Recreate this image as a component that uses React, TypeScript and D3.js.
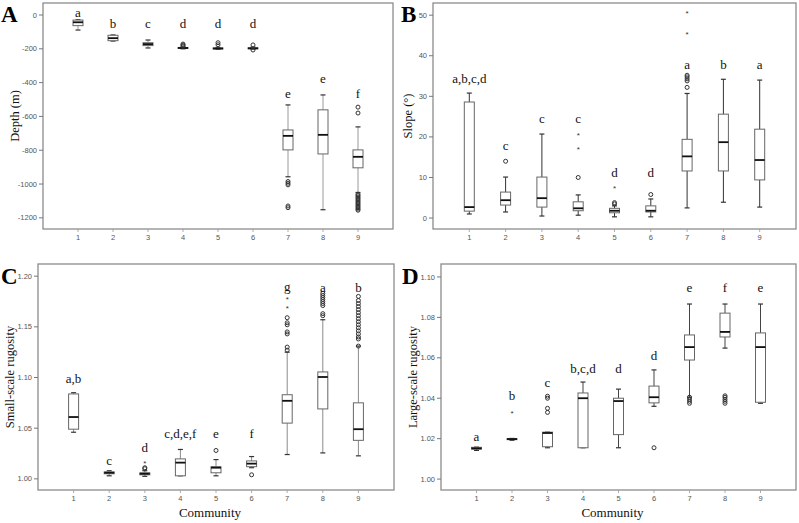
import React from "react";
import * as d3 from "d3";

const communities = [1, 2, 3, 4, 5, 6, 7, 8, 9];

// Panel A: Depth (m)
const depthMin = [-89, -154, -195, -200, -203, -202, -957, -1152, -1050];
const depthQ1 = [-63, -152, -181, -198, -201, -200, -798, -822, -904];
const depthMed = [-43, -137, -172, -195, -198, -197, -715, -709, -839];
const depthQ3 = [-30, -120, -164, -192, -195, -194, -680, -561, -798];
const depthMax = [-28, -118, -148, -190, -192, -190, -532, -473, -662];
const depthCircles = [[], [], [], [-172, -178, -184], [-164, -176], [-177, -207], [-985, -995, -1005, -1130, -1140], [], [-545, -580, -1060, -1068, -1076, -1084, -1092, -1100, -1108, -1116, -1124, -1132, -1140, -1148, -1155]];
const depthStars = [[], [], [], [], [], [], [], [], []];
const depthLetters = ["a", "b", "c", "d", "d", "d", "e", "e", "f"];
const depthLetterAt = [-12, -77, -77, -77, -77, -77, -490, -402, -490];
const depthTicks = [0, -200, -400, -600, -800, -1000, -1200];

// Panel B: Slope
const slopeMin = [1.0, 1.5, 0.5, 0.7, 0.3, 0.3, 2.5, 3.9, 2.7];
const slopeQ1 = [1.7, 3.2, 2.7, 1.8, 1.3, 1.5, 11.6, 11.6, 9.4];
const slopeMed = [2.7, 4.4, 4.9, 2.4, 1.8, 1.8, 15.2, 18.7, 14.3];
const slopeQ3 = [28.6, 6.4, 10.1, 4.0, 2.4, 3.0, 19.4, 25.6, 21.9];
const slopeMax = [30.8, 10.1, 20.7, 5.7, 3.0, 4.7, 30.7, 34.2, 34.0];
const slopeCircles = [[], [14.0], [], [10.0], [3.5, 3.8], [5.8], [32.2, 33.8, 34.3, 34.8, 35.2], [], []];
const slopeStars = [[], [], [], [17.2, 20.7], [7.5], [], [45.6, 50.7], [], []];
const slopeLetters = ["a,b,c,d", "c", "c", "c", "d", "d", "a", "b", "a"];
const slopeLetterAt = [33.2, 16.7, 23.4, 23.4, 10.1, 10.1, 36.7, 36.7, 36.7];
const slopeTicks = [0, 10, 20, 30, 40, 50];

// Panel C: Small-scale rugosity
const smallMin = [1.046, 1.003, 1.0025, 1.003, 1.003, 1.011, 1.024, 1.0256, 1.0227];
const smallQ1 = [1.049, 1.005, 1.004, 1.003, 1.006, 1.012, 1.055, 1.069, 1.038];
const smallMed = [1.061, 1.006, 1.005, 1.016, 1.011, 1.015, 1.077, 1.1005, 1.049];
const smallQ3 = [1.0838, 1.0069, 1.006, 1.0197, 1.012, 1.0177, 1.083, 1.1055, 1.075];
const smallMax = [1.085, 1.008, 1.008, 1.029, 1.019, 1.022, 1.125, 1.157, 1.131];
const smallCircles = [[], [], [1.010, 1.011], [], [1.028], [1.004], [1.127, 1.130, 1.143, 1.145, 1.152, 1.154, 1.159], [1.161, 1.163, 1.171, 1.173, 1.175, 1.177, 1.179, 1.181, 1.183], [1.131, 1.138, 1.140, 1.143, 1.146, 1.149, 1.152, 1.155, 1.158, 1.161, 1.164, 1.167, 1.170, 1.173, 1.176, 1.180]];
const smallStars = [[], [], [1.016], [], [], [], [1.169, 1.178], [], []];
const smallLetters = ["a,b", "c", "d", "c,d,e,f", "e", "f", "g", "a", "b"];
const smallLetterAt = [1.0947, 1.0138, 1.0266, 1.0404, 1.0404, 1.0404, 1.1855, 1.1844, 1.1844];
const smallTicks = [1.0, 1.05, 1.1, 1.15, 1.2];

// Panel D: Large-scale rugosity
const largeMin = [1.0142, 1.0192, 1.0155, 1.0155, 1.0155, 1.036, 1.0405, 1.0648, 1.0375];
const largeQ1 = [1.0148, 1.0195, 1.016, 1.0155, 1.022, 1.0377, 1.0589, 1.0703, 1.038];
const largeMed = [1.0152, 1.0198, 1.0228, 1.040, 1.0386, 1.0405, 1.0653, 1.0728, 1.0653];
const largeQ3 = [1.0157, 1.0200, 1.0232, 1.0426, 1.040, 1.046, 1.0713, 1.0821, 1.0723];
const largeMax = [1.0158, 1.0201, 1.0232, 1.048, 1.0445, 1.054, 1.0866, 1.0866, 1.0866];
const largeCircles = [[], [], [1.033, 1.035, 1.040, 1.041], [], [], [1.0155], [1.0375, 1.0385, 1.0395, 1.0405], [1.0375, 1.0385, 1.0395, 1.0405, 1.0412], []];
const largeStars = [[], [1.0327], [], [], [], [], [], [], []];
const largeLetters = ["a", "b", "c", "b,c,d", "d", "d", "e", "f", "e"];
const largeLetterAt = [1.0188, 1.0391, 1.0455, 1.0525, 1.0525, 1.0589, 1.0926, 1.0926, 1.0926];
const largeTicks = [1.0, 1.02, 1.04, 1.06, 1.08, 1.1];

const SERIF = "'Liberation Serif', 'Times New Roman', serif";
const SANS = "'Liberation Sans', Arial, sans-serif";

type PanelProps = {
  letter: string;
  title: string;
  x0: number; x1: number; y0: number; y1: number;
  domain: [number, number];
  ticks: number[];
  fmt: (v: number) => string;
  mins: number[]; q1s: number[]; meds: number[]; q3s: number[]; maxs: number[];
  circles: number[][]; stars: number[][];
  letters: string[]; letterAt: number[];
  whisker: string;
  letterX: number; letterY: number; titleX: number;
  showX: boolean;
};

function Panel(p: PanelProps) {
  const x = d3.scaleLinear().domain([0, 10]).range([p.x0, p.x1]);
  const y = d3.scaleLinear().domain(p.domain).range([p.y1, p.y0]);
  const bw = 10;
  const cw = 5;
  return (
    <g>
      <rect x={p.x0} y={p.y0} width={p.x1 - p.x0} height={p.y1 - p.y0} fill="none" stroke="#8c8c8c" strokeWidth={1.3} />
      {p.ticks.map((t) => (
        <g key={"t" + t}>
          <line x1={p.x0 - 4} x2={p.x0} y1={y(t)} y2={y(t)} stroke="#777" strokeWidth={1} />
          <text x={p.x0 - 6} y={y(t) + 2.6} fontSize={7.5} fontFamily={SANS} fill="#555" textAnchor="end">{p.fmt(t)}</text>
        </g>
      ))}
      {communities.map((c) => (
        <g key={"x" + c}>
          <line x1={x(c)} x2={x(c)} y1={p.y1} y2={p.y1 + 3} stroke="#999" strokeWidth={0.8} />
          <text x={x(c)} y={p.y1 + 11} fontSize={7.5} fontFamily={SANS} fill="#555" textAnchor="middle">{c}</text>
        </g>
      ))}
      {communities.map((c, i) => {
        const cx = x(c);
        return (
          <g key={"b" + c}>
            <line x1={cx} x2={cx} y1={y(p.maxs[i])} y2={y(p.q3s[i])} stroke={p.whisker} strokeWidth={1} />
            <line x1={cx} x2={cx} y1={y(p.q1s[i])} y2={y(p.mins[i])} stroke={p.whisker} strokeWidth={1} />
            <line x1={cx - cw / 2} x2={cx + cw / 2} y1={y(p.maxs[i])} y2={y(p.maxs[i])} stroke="#333" strokeWidth={1.2} />
            <line x1={cx - cw / 2} x2={cx + cw / 2} y1={y(p.mins[i])} y2={y(p.mins[i])} stroke="#333" strokeWidth={1.2} />
            <rect x={cx - bw / 2} y={y(p.q3s[i])} width={bw} height={Math.max(0.5, y(p.q1s[i]) - y(p.q3s[i]))} fill="#fff" stroke="#666" strokeWidth={1} />
            <line x1={cx - bw / 2} x2={cx + bw / 2} y1={y(p.meds[i])} y2={y(p.meds[i])} stroke="#111" strokeWidth={1.8} />
            {p.circles[i].map((v, k) => (
              <circle key={"c" + k} cx={cx} cy={y(v)} r={2} fill="none" stroke="#333" strokeWidth={1} />
            ))}
            {p.stars[i].map((v, k) => (
              <text key={"s" + k} x={cx} y={y(v) + 3.5} fontSize={8} fontFamily={SANS} fill="#333" textAnchor="middle">*</text>
            ))}
            <text x={cx} y={y(p.letterAt[i])} fontSize={13} fontFamily={SERIF} fill="#111" textAnchor="middle">{p.letters[i]}</text>
          </g>
        );
      })}
      <text x={p.letterX} y={p.letterY} fontSize={23} fontWeight="bold" fontFamily={SERIF} fill="#000">{p.letter}</text>
      <text transform={`translate(${p.titleX},${(p.y0 + p.y1) / 2}) rotate(-90)`} fontSize={12.5} fontFamily={SERIF} fill="#111" textAnchor="middle">{p.title}</text>
      {p.showX && (
        <text x={(p.x0 + p.x1) / 2 - 6} y={517} fontSize={13} fontFamily={SERIF} fill="#111" textAnchor="middle">Community</text>
      )}
    </g>
  );
}

export default function App() {
  const f2 = d3.format(".2f");
  const fi = (v: number) => String(v);
  return (
    <svg width={799} height={523} style={{ position: "absolute", left: 0, top: 0, background: "#fff" }}>
      <rect width={799} height={523} fill="#fff" />
      <Panel letter="A" title="Depth (m)" x0={43} x1={393} y0={3} y1={229} domain={[-1266, 71]}
        ticks={depthTicks} fmt={fi} mins={depthMin} q1s={depthQ1} meds={depthMed} q3s={depthQ3} maxs={depthMax}
        circles={depthCircles} stars={depthStars} letters={depthLetters} letterAt={depthLetterAt}
        whisker="#9a9a9a" letterX={1} letterY={22} titleX={19} showX={false} />
      <Panel letter="B" title="Slope (°)" x0={433} x1={796} y0={3} y1={229} domain={[-2.7, 53]}
        ticks={slopeTicks} fmt={fi} mins={slopeMin} q1s={slopeQ1} meds={slopeMed} q3s={slopeQ3} maxs={slopeMax}
        circles={slopeCircles} stars={slopeStars} letters={slopeLetters} letterAt={slopeLetterAt}
        whisker="#333" letterX={401} letterY={22} titleX={412} showX={false} />
      <Panel letter="C" title="Small-scale rugosity" x0={38} x1={394} y0={264} y1={490} domain={[0.989, 1.212]}
        ticks={smallTicks} fmt={f2} mins={smallMin} q1s={smallQ1} meds={smallMed} q3s={smallQ3} maxs={smallMax}
        circles={smallCircles} stars={smallStars} letters={smallLetters} letterAt={smallLetterAt}
        whisker="#8a8a8a" letterX={1} letterY={284} titleX={14} showX={true} />
      <Panel letter="D" title="Large-scale rugosity" x0={441} x1={796} y0={264} y1={490} domain={[0.9946, 1.1064]}
        ticks={largeTicks} fmt={f2} mins={largeMin} q1s={largeQ1} meds={largeMed} q3s={largeQ3} maxs={largeMax}
        circles={largeCircles} stars={largeStars} letters={largeLetters} letterAt={largeLetterAt}
        whisker="#444" letterX={402} letterY={284} titleX={417} showX={true} />
    </svg>
  );
}
